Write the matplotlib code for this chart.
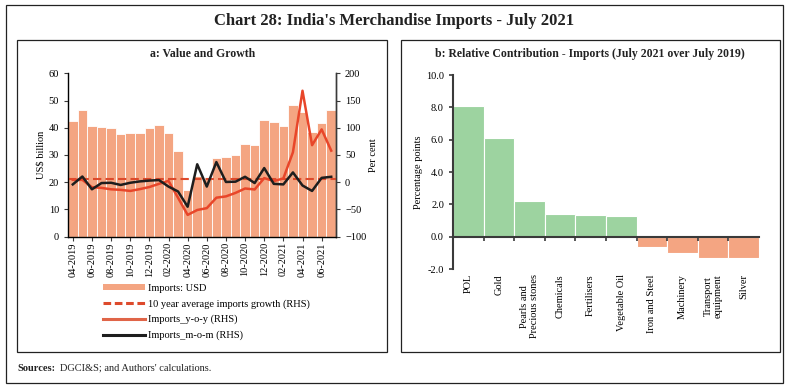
import numpy as np
import matplotlib
matplotlib.use('Agg')
import matplotlib.pyplot as plt
from matplotlib.patches import Rectangle, Patch
from matplotlib.lines import Line2D

plt.rcParams['font.family'] = ['Liberation Serif', 'DejaVu Serif']

# %% data

months = ['04-2019', '05-2019', '06-2019', '07-2019', '08-2019', '09-2019', '10-2019',
          '11-2019', '12-2019', '01-2020', '02-2020', '03-2020', '04-2020', '05-2020',
          '06-2020', '07-2020', '08-2020', '09-2020', '10-2020', '11-2020', '12-2020',
          '01-2021', '02-2021', '03-2021', '04-2021', '05-2021', '06-2021', '07-2021']

imports_usd = [42.4, 46.6, 40.6, 40.1, 39.8, 37.6, 37.9, 38.2, 39.8, 41.1, 37.9, 31.5,
               17.1, 22.2, 21.1, 29.0, 29.4, 30.1, 33.9, 33.7, 43.0, 42.0, 40.5, 48.4,
               45.7, 38.6, 41.8, 46.5]

imports_yoy = [4.5, 4.3, -9.1, -10.4, -13.0, -14.0, -16.0, -12.7, -8.8, -3.0, 2.5, -28.7,
               -60.0, -51.0, -47.6, -28.4, -26.0, -19.6, -11.5, -13.3, 7.6, 2.0, 7.0, 55.0,
               168.0, 68.0, 97.0, 58.0]

imports_mom = [-4.0, 10.5, -13.0, -1.5, -1.0, -5.0, -1.0, 1.5, 3.0, 4.0, -8.0, -17.0,
               -45.0, 33.0, -8.0, 37.0, 0.5, 1.0, 10.0, -1.5, 26.0, -3.0, -4.0, 18.0,
               -6.0, -16.0, 8.0, 10.0]

avg_growth_10yr = 5.5

categories = ['POL', 'Gold', 'Pearls and\nPrecious stones', 'Chemicals', 'Fertilisers',
              'Vegetable Oil', 'Iron and Steel', 'Machinery', 'Transport\nequipment', 'Silver']
contribution = [8.1, 6.1, 2.2, 1.4, 1.35, 1.3, -0.65, -0.98, -1.3, -1.35]

# %% figure

salmon = '#F4A582'
green = '#9DD3A0'
red = '#E8462A'
dark = '#3a3a3a'

fig = plt.figure(figsize=(7.88, 3.87), dpi=100)

# frames
fig.patches.append(Rectangle((0.0076, 0.0103), 0.986, 0.977, transform=fig.transFigure,
                             fill=False, edgecolor='#222222', linewidth=0.9))
fig.patches.append(Rectangle((0.0216, 0.0904), 0.4695, 0.806, transform=fig.transFigure,
                             fill=False, edgecolor='#222222', linewidth=0.9))
fig.patches.append(Rectangle((0.5089, 0.0904), 0.4810, 0.806, transform=fig.transFigure,
                             fill=False, edgecolor='#222222', linewidth=0.9))

fig.text(0.5, 0.947, "Chart 28: India's Merchandise Imports - July 2021", ha='center',
         va='center', fontsize=12, fontweight='bold', color='#222222')
fig.text(0.257, 0.860, 'a: Value and Growth', ha='center', va='center',
         fontsize=8.5, fontweight='bold', color='#222222')
fig.text(0.749, 0.860, 'b: Relative Contribution - Imports (July 2021 over July 2019)',
         ha='center', va='center', fontsize=8.5, fontweight='bold', color='#222222')
fig.text(0.0216, 0.049, 'Sources:', ha='left', va='center', fontsize=7.5,
         fontweight='bold', color='#222222')
fig.text(0.0765, 0.049, "DGCI&S; and Authors' calculations.", ha='left', va='center',
         fontsize=7.5, color='#222222')

# %% panel a

ax = fig.add_axes([0.0863, 0.3884, 0.3401, 0.4222])
x = np.arange(len(months))
ax.bar(x, imports_usd, width=1.0, color=salmon, edgecolor='white', linewidth=0.6, zorder=1)
ax.set_xlim(-0.5, len(months) - 0.5)
ax.set_ylim(0, 60)
ax.set_yticks(range(0, 61, 10))
ax.set_xticks(x[::2])
ax.set_xticklabels(months[::2], rotation=90, fontsize=7.5)
ax.tick_params(axis='y', labelsize=7.5, length=3, color=dark)
ax.tick_params(axis='x', length=3, color=dark, pad=1)
ax.set_ylabel('US$ billion', fontsize=7.5, labelpad=2)
ax.spines['top'].set_visible(False)
for s in ['left', 'right', 'bottom']:
    ax.spines[s].set_color(dark)
    ax.spines[s].set_linewidth(1.0)

ax2 = ax.twinx()
ax2.set_ylim(-100, 200)
ax2.set_yticks(range(-100, 201, 50))
ax2.tick_params(axis='y', labelsize=7.5, length=3, color=dark)
ax2.set_ylabel('Per cent', fontsize=7.5, labelpad=2)
ax2.spines['top'].set_visible(False)
ax2.spines['right'].set_color(dark)
ax2.spines['right'].set_linewidth(1.0)
ax2.axhline(avg_growth_10yr, color='#DD4A2C', linestyle=(0, (4, 2)), linewidth=1.5)
ax2.plot(x, imports_yoy, color=red, linewidth=1.8)
ax2.plot(x, imports_mom, color='#1e1e1e', linewidth=1.8)

handles = [Patch(facecolor=salmon, edgecolor='none'),
           Line2D([], [], color='#DD4A2C', linestyle=(0, (2.5, 1.2)), linewidth=2.2),
           Line2D([], [], color='#E06548', linewidth=2.2),
           Line2D([], [], color='#1e1e1e', linewidth=2.2)]
labels = ['Imports: USD', '10 year average imports growth (RHS)',
          'Imports_y-o-y (RHS)', 'Imports_m-o-m (RHS)']
fig.legend(handles, labels, loc='upper left', bbox_to_anchor=(0.131, 0.267),
           frameon=False, fontsize=7.5, handlelength=4.0, handleheight=0.5,
           handletextpad=0.3, labelspacing=0.6, borderaxespad=0, borderpad=0)

# %% panel b

bx = fig.add_axes([0.5749, 0.3049, 0.3883, 0.5013])
xb = np.arange(len(categories))
colors = [green if v >= 0 else salmon for v in contribution]
bx.bar(xb, contribution, width=1.0, color=colors, edgecolor='white', linewidth=0.8)
bx.set_xlim(-0.5, len(categories) - 0.5)
bx.set_ylim(-2, 10)
bx.set_yticks(range(-2, 11, 2))
bx.set_yticklabels(['{:.1f}'.format(v) for v in range(-2, 11, 2)], fontsize=7.5)
bx.set_ylabel('Percentage points', fontsize=7.5, labelpad=2)
bx.spines['top'].set_visible(False)
bx.spines['right'].set_visible(False)
bx.spines['left'].set_color(dark)
bx.spines['left'].set_linewidth(1.5)
bx.spines['bottom'].set_position(('data', 0))
bx.spines['bottom'].set_color(dark)
bx.spines['bottom'].set_linewidth(1.5)
bx.tick_params(axis='y', length=3, color=dark, width=1.2)
bx.set_xticks(xb)
bx.set_xticklabels(categories, rotation=90, fontsize=7.5, va='top', ha='center',
                   multialignment='center')
bx.tick_params(axis='x', which='major', length=0, pad=27)
bx.set_xticks(xb[:-1] + 0.5, minor=True)
bx.tick_params(axis='x', which='minor', length=3, color=dark, width=1.2)

fig.savefig('out.png', dpi=100)
